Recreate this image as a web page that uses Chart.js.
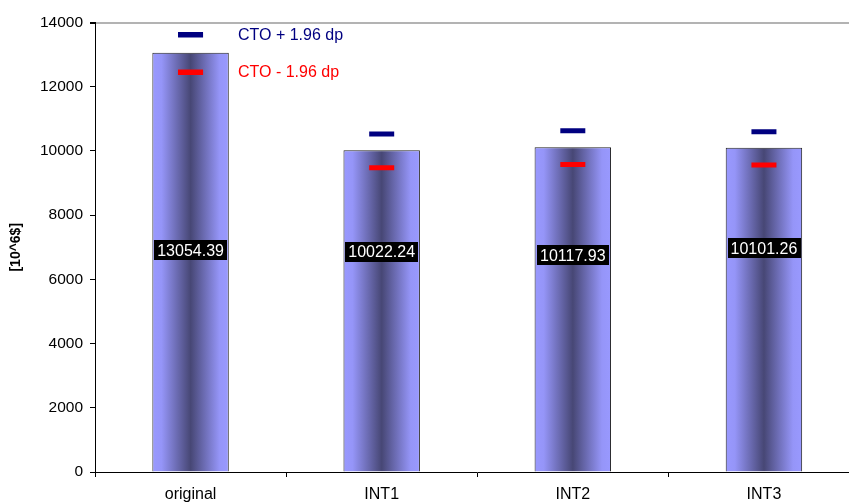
<!DOCTYPE html>
<html>
<head>
<meta charset="utf-8">
<script src="https://cdn.jsdelivr.net/npm/chart.js@4/dist/chart.umd.min.js"></script>
<style>
  html, body { margin: 0; padding: 0; background: #fff; overflow: hidden; }
  #wrap { width: 849px; height: 503px; overflow: hidden; position: relative; }
  canvas { display: block; }
</style>
</head>
<body>
<div id="wrap"><canvas id="c" width="877" height="503"></canvas></div>
<script>
const categories = ['original', 'INT1', 'INT2', 'INT3'];
const ctoValues = [13054.39, 10022.24, 10117.93, 10101.26];
const upperValues = [13610, 10530, 10625, 10595];
const lowerValues = [12445, 9475, 9580, 9565];
const valueLabels = ['13054.39', '10022.24', '10117.93', '10101.26'];
const labelLevels = [6900, 6850, 6750, 6970];
const yTicks = [0, 2000, 4000, 6000, 8000, 10000, 12000, 14000];
const yTitle = '[10^6$]';

const FONT = 'Liberation Sans, Arial, sans-serif';

function barGradient(context) {
  const chart = context.chart;
  const xs = chart.scales && chart.scales.x;
  if (!xs || !chart.chartArea) return '#9999ff';
  const cx = xs.getPixelForValue(context.dataIndex);
  const w = (xs.right - xs.left) / categories.length * 0.4;
  const g = chart.ctx.createLinearGradient(cx - w / 2, 0, cx + w / 2, 0);
  g.addColorStop(0, '#9999ff');
  g.addColorStop(0.12, '#9595f8');
  g.addColorStop(0.5, '#474775');
  g.addColorStop(0.88, '#9595f8');
  g.addColorStop(1, '#9999ff');
  return g;
}

const valueLabelPlugin = {
  id: 'valueLabels',
  afterDatasetsDraw(chart) {
    const ctx = chart.ctx;
    const xs = chart.scales.x, ys = chart.scales.y;
    ctx.save();
    ctx.font = '16px ' + FONT;
    ctx.textAlign = 'center';
    ctx.textBaseline = 'middle';
    valueLabels.forEach((t, i) => {
      const x = xs.getPixelForValue(i);
      const y = ys.getPixelForValue(labelLevels[i]);
      const w = ctx.measureText(t).width + 6;
      const h = 20;
      ctx.fillStyle = '#000';
      ctx.fillRect(Math.round(x - w / 2), Math.round(y - h / 2), Math.round(w), h);
      ctx.fillStyle = '#fff';
      ctx.fillText(t, x, y + 1);
    });
    ctx.restore();
  }
};

const legendPlugin = {
  id: 'customLegend',
  afterDraw(chart) {
    const ctx = chart.ctx;
    const a = chart.chartArea;
    const items = [chart.data.datasets[1], chart.data.datasets[2]];
    ctx.save();
    ctx.font = '16px ' + FONT;
    ctx.textBaseline = 'middle';
    items.forEach((ds, i) => {
      const y = a.top + 12 + i * 37.5;
      ctx.fillStyle = ds.pointBorderColor;
      ctx.fillRect(a.left + 83, y - 2.5, 25, 5);
      ctx.fillText(ds.label, a.left + 143, y + 1);
    });
    ctx.restore();
  }
};

new Chart(document.getElementById('c'), {
  data: {
    labels: categories,
    datasets: [
      {
        type: 'bar',
        label: 'CTO',
        data: ctoValues,
        backgroundColor: barGradient,
        borderColor: '#222',
        borderWidth: 1,
        barPercentage: 0.4,
        categoryPercentage: 1,
        order: 3
      },
      {
        type: 'line',
        label: 'CTO + 1.96 dp',
        data: upperValues,
        showLine: false,
        pointStyle: 'line',
        pointRadius: 12.5,
        pointBorderWidth: 5,
        pointBorderColor: '#000080',
        borderColor: '#000080',
        order: 1
      },
      {
        type: 'line',
        label: 'CTO - 1.96 dp',
        data: lowerValues,
        showLine: false,
        pointStyle: 'line',
        pointRadius: 12.5,
        pointBorderWidth: 5,
        pointBorderColor: '#ff0000',
        borderColor: '#ff0000',
        order: 2
      }
    ]
  },
  options: {
    responsive: false,
    animation: false,
    events: [],
    layout: { padding: { top: 22.5, right: 1, bottom: 0, left: 0 } },
    plugins: {
      legend: { display: false },
      tooltip: { enabled: false }
    },
    scales: {
      x: {
        type: 'category',
        offset: true,
        afterFit(scale) { scale.height = 31; },
        grid: { drawOnChartArea: false, tickLength: 5, color: '#000', offset: true },
        border: { color: '#000', width: 1 },
        ticks: { color: '#000', font: { family: FONT, size: 16 }, padding: 8 }
      },
      y: {
        min: 0,
        max: 14000,
        afterBuildTicks(scale) { scale.ticks = yTicks.map(v => ({ value: v })); },
        afterFit(scale) { scale.width = 95; },
        grid: {
          drawOnChartArea: true,
          tickLength: 5,
          tickColor: '#000',
          color: (c) => (c.tick && c.tick.value === 14000) ? '#b3b3b3' : 'rgba(0,0,0,0)',
          lineWidth: (c) => (c.tick && c.tick.value === 14000) ? 2 : 1
        },
        border: { color: '#000', width: 1 },
        ticks: {
          color: '#000',
          font: { family: FONT, size: 15.5 },
          padding: 7,
          callback: (v) => String(v)
        },
        title: {
          display: true,
          text: yTitle,
          color: '#000',
          font: { family: FONT, size: 14, weight: 'bold' },
          padding: { top: 8, bottom: 0 }
        }
      }
    }
  },
  plugins: [valueLabelPlugin, legendPlugin]
});
</script>
</body>
</html>
